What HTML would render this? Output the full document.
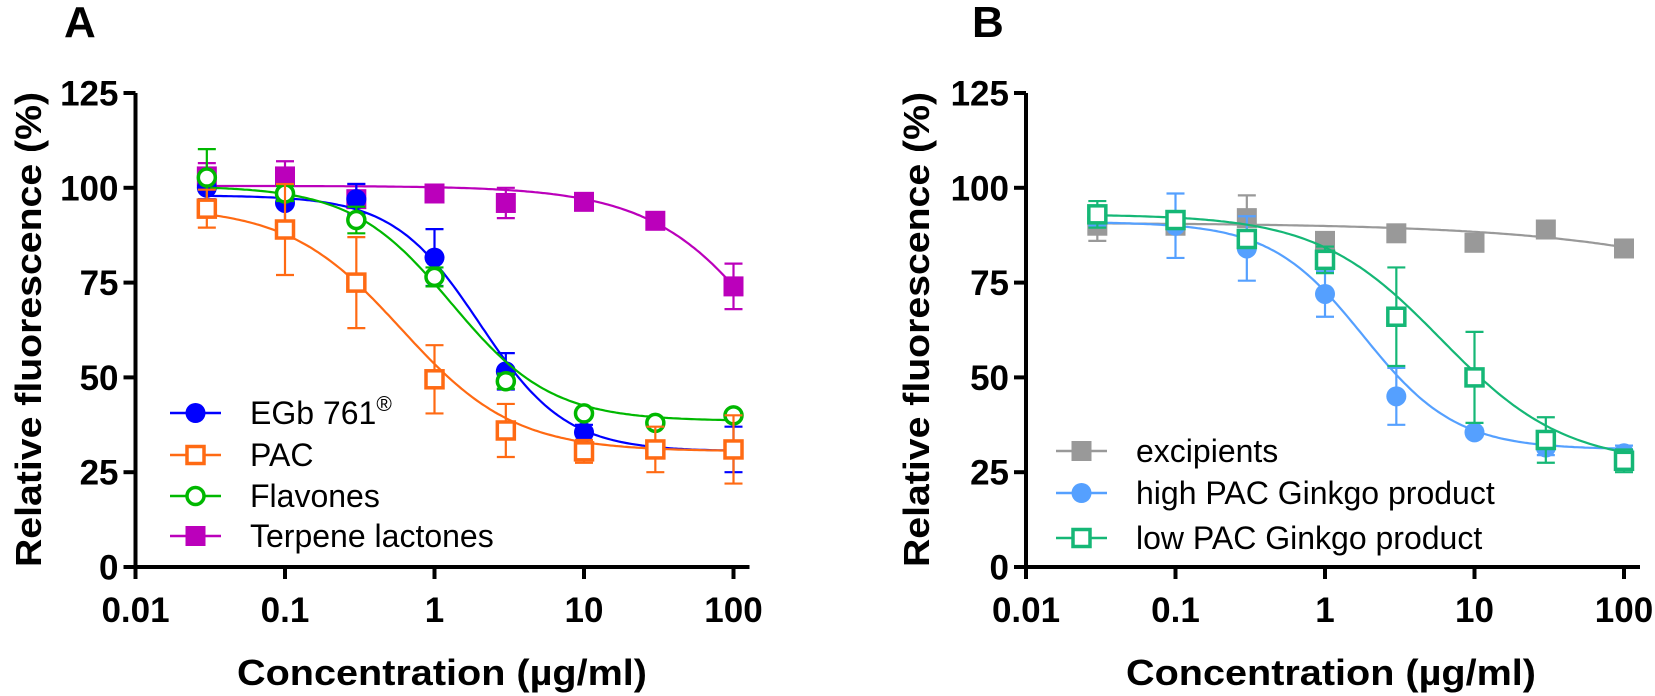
<!DOCTYPE html>
<html><head><meta charset="utf-8">
<style>
body{margin:0;background:#fff;}
svg{display:block;font-family:"Liberation Sans",Arial,sans-serif;}
</style></head>
<body>
<svg id="chart" width="1655" height="696" viewBox="0 0 1655 696" xmlns="http://www.w3.org/2000/svg">
<text x="64" y="37" font-size="44" font-weight="bold">A</text>
<text x="972" y="37" font-size="44" font-weight="bold">B</text>
<g id="panelA"></g>
<g id="panelB"></g>
</svg>
<script>
const xConc = [0.03,0.1,0.3,1,3,10,30,100];
const yTicks = [0,25,50,75,100,125];
const xTicks = [0.01,0.1,1,10,100];
const xTickLabels = ["0.01","0.1","1","10","100"];

const egbVals = [100,96,97,81.6,51.6,35.5,31,31];
const egbErr  = [3,5,4,7.5,4.8,2,2,6];
const pacVals = [94.5,89,75,49.5,36,30.5,31,31];
const pacErr  = [5,12,12,9,7,3,6,9];
const flaVals = [102.7,98.5,91.5,76.5,49,40.5,38,40];
const flaErr  = [7.5,2,3.5,2.5,2,1,1,1];
const terVals = [103,103,97,98.5,96,96.3,91.3,74];
const terErr  = [3.5,4,4,1,4,1,1,6];

const excVals = [90,90,92,86,88,85.5,89,84];
const excErr  = [4,2,6,1,1,1,1,1];
const hiVals  = [92,90,84,72,45,35.5,31.5,30];
const hiErr   = [2,8.5,8.5,6,7.5,1,2,2];
const loVals  = [93,91.5,86.5,81,66,50,33.5,28];
const loErr   = [3.5,2,2,3.5,13,12,6,3];

// 4PL fit params [top,bottom,ic50,hill]
const egbFit=[98,30.5,2.0,1.5], pacFit=[95,30.5,0.6,1.15], flaFit=[100.5,38.5,1.3,1.3], terFit=[100.5,0,280,1];
const excFit=[90.8,0,30000,0.45], hiFit=[91,31,1.8,1.4], loFit=[93,27,6,1.05];

const NS="http://www.w3.org/2000/svg";
function mk(p,t,a){const e=document.createElementNS(NS,t);for(const k in a)e.setAttribute(k,a[k]);p.appendChild(e);return e;}

function panel(g,x0,xlabelCx,ytitleX,series,legend){
  const dec=149.5, y0=567, yTop=93;
  const X=v=>x0+(Math.log10(v)+2)*dec;
  const Y=v=>y0-(v/125)*(y0-yTop);
  const xEnd=X(100)+16;
  const ya=mk(g,'line',{x1:x0,y1:yTop,x2:x0,y2:y0+2,stroke:'#000','stroke-width':4});
  
  
  const xa=mk(g,'line',{x1:x0-12,y1:y0,x2:xEnd,y2:y0,stroke:'#000','stroke-width':4});
  
  
  yTicks.forEach(t=>{
    mk(g,'line',{x1:x0-12,y1:Y(t),x2:x0,y2:Y(t),stroke:'#000','stroke-width':4});
    const tx=mk(g,'text',{x:x0-17,y:Y(t)+12.5,'font-size':35,'font-weight':'bold','text-anchor':'end'});
    tx.textContent=t;
    
    
  });
  xTicks.forEach((t,i)=>{
    mk(g,'line',{x1:X(t),y1:y0,x2:X(t),y2:y0+12,stroke:'#000','stroke-width':4});
    const tx=mk(g,'text',{x:X(t),y:622,'font-size':35,'font-weight':'bold','text-anchor':'middle'});
    tx.textContent=xTickLabels[i];
    
    
  });
  const xt=mk(g,'text',{x:xlabelCx-205,y:685,'font-size':36,'font-weight':'bold',textLength:410,lengthAdjust:'spacingAndGlyphs'});
  xt.textContent='Concentration (µg/ml)';
  
  
  const yt=mk(g,'text',{x:-237,y:0,'font-size':36,'font-weight':'bold',textLength:475,lengthAdjust:'spacingAndGlyphs',transform:`translate(${ytitleX+13},330) rotate(-90)`});
  yt.textContent='Relative fluorescence (%)';
  
  

  function marker(p,cx,cy,s,sz){
    const r=sz||10;
    if(s.shape==='circle') return mk(p,'circle',{cx,cy,r:s.fill?r:r-1.5,fill:s.fill?s.color:'#fff',stroke:s.color,'stroke-width':s.fill?0:3.5});
    return mk(p,'rect',{x:cx-r+(s.fill?0:1.5),y:cy-r+(s.fill?0:1.5),width:2*r-(s.fill?0:3),height:2*r-(s.fill?0:3),fill:s.fill?s.color:'#fff',stroke:s.color,'stroke-width':s.fill?0:3.5});
  }
  series.forEach(s=>{
    const sg=mk(g,'g',{});
    
    
    const [top,bot,ic,h]=s.fit;
    let d='';
    for(let i=0;i<=200;i++){const lx=-1.5+i*(3.5/200);const v=Math.pow(10,lx);const yv=bot+(top-bot)/(1+Math.pow(v/ic,h));d+=(i?'L':'M')+X(v).toFixed(1)+','+Y(yv).toFixed(1);}
    const c=mk(sg,'path',{d,fill:'none',stroke:s.color,'stroke-width':2.2});
    
    
    s.vals.forEach((v,i)=>{
      const cx=X(xConc[i]),e=s.err[i];
      const eb=mk(sg,'path',{d:`M${cx},${Y(v-e)}L${cx},${Y(v+e)}M${cx-9},${Y(v+e)}L${cx+9},${Y(v+e)}M${cx-9},${Y(v-e)}L${cx+9},${Y(v-e)}`,stroke:s.color,'stroke-width':2.2,fill:'none'});
      
      
      const m=marker(sg,cx,Y(v),s);
      
      
    });
  });
  legend.items.forEach((s,i)=>{
    const ly=legend.y[i];
    const lg=mk(g,'g',{});
    
    
    mk(lg,'line',{x1:legend.x,y1:ly,x2:legend.x+51,y2:ly,stroke:s.color,'stroke-width':2.5});
    marker(lg,legend.x+25.5,ly,s);
    const t=mk(lg,'text',{x:legend.x+80,y:ly+11,'font-size':32});
    t.innerHTML=s.label;
  });
}

const sEgb={name:'egb-761',label:'EGb 761<tspan font-size="21" dy="-13">®</tspan>',color:'#0000ff',shape:'circle',fill:true,vals:egbVals,err:egbErr,fit:egbFit};
const sPac={name:'pac',label:'PAC',color:'#ff6a13',shape:'square',fill:false,vals:pacVals,err:pacErr,fit:pacFit};
const sFla={name:'flavones',label:'Flavones',color:'#00b800',shape:'circle',fill:false,vals:flaVals,err:flaErr,fit:flaFit};
const sTer={name:'terpene-lactones',label:'Terpene lactones',color:'#bb00bb',shape:'square',fill:true,vals:terVals,err:terErr,fit:terFit};
const sExc={name:'excipients',label:'excipients',color:'#999999',shape:'square',fill:true,vals:excVals,err:excErr,fit:excFit};
const sHi={name:'high-pac-ginkgo',label:'high PAC Ginkgo product',color:'#55a0ff',shape:'circle',fill:true,vals:hiVals,err:hiErr,fit:hiFit};
const sLo={name:'low-pac-ginkgo',label:'low PAC Ginkgo product',color:'#15b776',shape:'square',fill:false,vals:loVals,err:loErr,fit:loFit};

panel(document.getElementById('panelA'),135.5,442,28,[sTer,sEgb,sFla,sPac],{x:170,y:[413,455,496,536],items:[sEgb,sPac,sFla,sTer]});
panel(document.getElementById('panelB'),1026,1331,916,[sExc,sHi,sLo],{x:1056,y:[451,493,538],items:[sExc,sHi,sLo]});
</script>
</body></html>
